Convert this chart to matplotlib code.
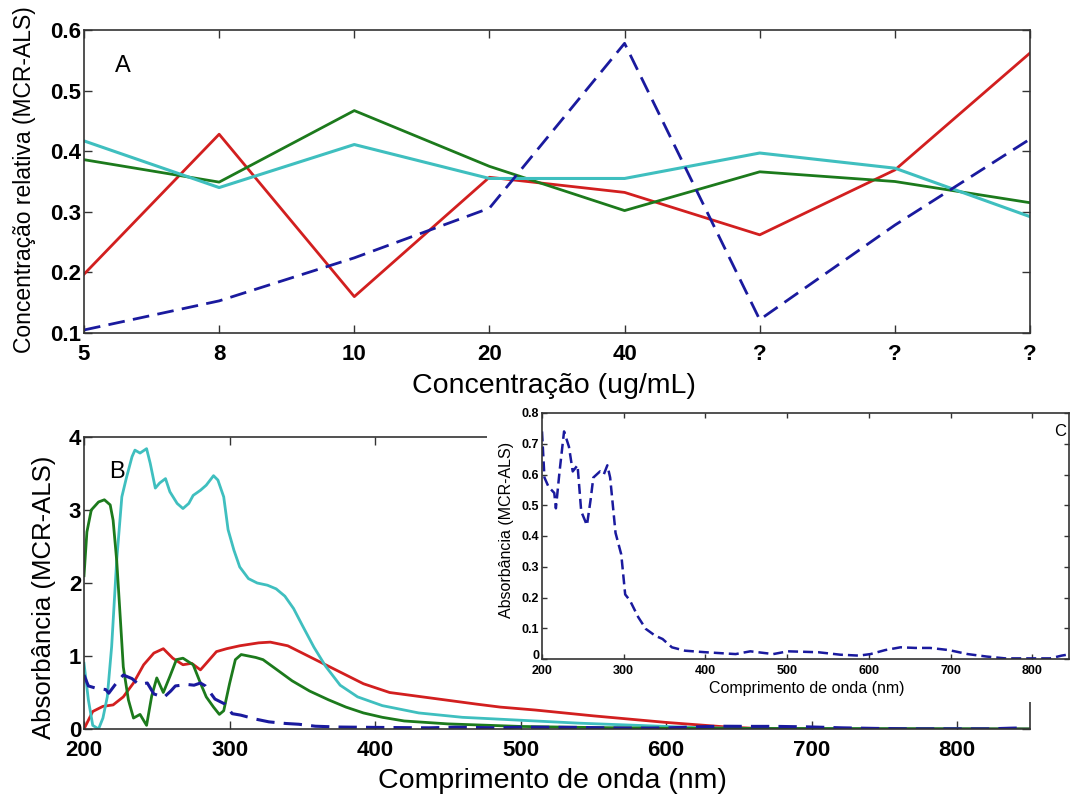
import matplotlib
matplotlib.use("Agg")
import matplotlib.pyplot as plt
from matplotlib import font_manager
from matplotlib.patches import Rectangle
from matplotlib.transforms import ScaledTranslation

# ---- panel A: relative concentration profiles ----
conc_labels = ["5", "8", "10", "20", "40", "?", "?", "?"]
a_blue = [0.105, 0.153, 0.224, 0.306, 0.578, 0.122, 0.278, 0.42]
a_red = [0.197, 0.428, 0.16, 0.357, 0.332, 0.262, 0.369, 0.562]
a_green = [0.386, 0.349, 0.467, 0.375, 0.302, 0.366, 0.35, 0.315]
a_cyan = [0.417, 0.34, 0.411, 0.355, 0.355, 0.397, 0.372, 0.292]

# ---- panel B / C: spectra (nm, absorbance) ----
green_nm = [200, 202, 205, 210, 214, 218, 220, 222.5, 225, 227, 230.5, 234, 238.5, 243, 246.5,
            250, 254.5, 259, 263.5, 268, 275, 280, 284, 289, 293, 296, 300, 304, 308, 313,
            318, 323, 332, 343, 355, 368, 380, 392, 405, 420, 450, 500, 550, 600, 850]
green_abs = [2.1, 2.7, 3.0, 3.11, 3.14, 3.07, 2.86, 2.3, 1.5, 0.85, 0.4, 0.15, 0.2, 0.05, 0.45,
             0.7, 0.5, 0.72, 0.95, 0.97, 0.88, 0.63, 0.44, 0.3, 0.2, 0.25, 0.62, 0.95, 1.02, 1.0,
             0.98, 0.95, 0.82, 0.66, 0.52, 0.4, 0.3, 0.22, 0.16, 0.11, 0.07, 0.035, 0.02, 0.01, 0.0]

cyan_nm = [200, 203, 206, 210, 213, 216, 219, 222.5, 226, 229, 233, 235, 238.5, 243, 245.5,
           249, 252, 256, 259, 264, 268, 272, 275, 280, 284, 289, 292, 296, 299, 303, 307,
           313, 319, 326, 332, 338, 344, 350, 358, 366, 376, 388, 405, 430, 460, 500, 540,
           580, 620, 660, 850]
cyan_abs = [0.9, 0.4, 0.05, 0.0, 0.15, 0.44, 1.13, 2.32, 3.18, 3.43, 3.73, 3.82, 3.78, 3.84, 3.64,
            3.3, 3.37, 3.43, 3.25, 3.09, 3.02, 3.09, 3.2, 3.27, 3.34, 3.47, 3.41, 3.18, 2.73, 2.45, 2.22,
            2.06, 2.0, 1.97, 1.92, 1.82, 1.65, 1.42, 1.12, 0.86, 0.6, 0.44, 0.32, 0.22, 0.16, 0.12, 0.08,
            0.05, 0.02, 0.005, 0.0]

red_nm = [200, 206, 213, 220, 227, 234, 241, 248, 254.5, 261, 268, 274, 280, 284, 291, 298,
          307, 320, 328, 340, 350, 362, 370, 380, 392, 410, 440, 470, 486, 510, 550, 600,
          640, 660, 700, 850]
red_abs = [0.0, 0.24, 0.31, 0.33, 0.44, 0.63, 0.88, 1.04, 1.1, 0.97, 0.88, 0.9, 0.81, 0.9, 1.06, 1.1,
           1.14, 1.18, 1.19, 1.14, 1.04, 0.92, 0.84, 0.74, 0.62, 0.5, 0.42, 0.34, 0.3, 0.26, 0.18, 0.09,
           0.03, 0.01, 0.0, 0.0]

blue_nm = [200, 203, 208, 215, 217, 221.5, 227, 233, 237.6, 243.5, 248, 255, 259.6, 262.8, 271,
           275.6, 280, 283.4, 290, 297, 301.8, 307.7, 317.8, 327, 338.4, 347.6, 359, 375, 400, 437,
           455, 483, 501, 538, 565, 588, 602, 620, 638.7, 657, 675, 698, 721, 744, 767, 790, 822,
           836, 845]
blue_abs = [0.74, 0.59, 0.56, 0.54, 0.49, 0.61, 0.74, 0.69, 0.61, 0.63, 0.48, 0.435, 0.52, 0.59, 0.61,
            0.6, 0.63, 0.59, 0.41, 0.34, 0.21, 0.19, 0.136, 0.098, 0.076, 0.065, 0.038, 0.027, 0.022, 0.016,
            0.025, 0.016, 0.025, 0.022, 0.014, 0.011, 0.016, 0.029, 0.038, 0.036, 0.036, 0.029, 0.016, 0.008,
            0.002, 0.002, 0.002, 0.011, 0.015]

wl_ticks = [200, 300, 400, 500, 600, 700, 800]

RED = "#d21f1f"
GREEN = "#1c7a1c"
CYAN = "#3fbfbf"
BLUE = "#1a1a9e"

names = {f.name for f in font_manager.fontManager.ttflist}
TICK_FONT = "Liberation Sans Narrow" if "Liberation Sans Narrow" in names else "Liberation Sans"
LABEL_FONT = "Liberation Sans"

W, H = 1070, 796


def px_rect(left, top, right, bottom):
    return [left / W, 1 - bottom / H, (right - left) / W, (bottom - top) / H]


def box_axes(ax, length, size, lw=1.2):
    ax.tick_params(direction="in", top=True, right=True, length=length, width=1,
                   colors="#333333", labelcolor="black", labelsize=size)
    for s in ax.spines.values():
        s.set_linewidth(lw)
        s.set_color("#333333")


fig = plt.figure(figsize=(W / 100, H / 100), dpi=100)

# ---- A ----
axA = fig.add_axes(px_rect(84, 30, 1030, 333))
idx = list(range(len(conc_labels)))
axA.plot(idx, a_red, color=RED, lw=2)
axA.plot(idx, a_green, color=GREEN, lw=2)
axA.plot(idx, a_cyan, color=CYAN, lw=2.2)
axA.plot(idx, a_blue, color=BLUE, lw=2, dashes=(6, 3))
axA.set_xlim(0, len(conc_labels) - 1)
axA.set_ylim(0.1, 0.6)
box_axes(axA, 6, 16)
axA.set_xticks(idx, conc_labels, fontfamily=TICK_FONT, fontweight="bold", fontsize=16)
axA.set_yticks([0.1, 0.2, 0.3, 0.4, 0.5, 0.6],
               ["0.1", "0.2", "0.3", "0.4", "0.5", "0.6"],
               fontfamily=TICK_FONT, fontweight="bold", fontsize=16)
axA.tick_params(axis="x", pad=8)
axA.tick_params(axis="y", pad=2)
axA.text(0.033, 0.88, "A", transform=axA.transAxes, fontsize=17, fontfamily=LABEL_FONT,
         va="center")

fig.text(554 / W, 1 - 386 / H, "Concentração (ug/mL)", ha="center", va="center",
         fontsize=20.5, fontfamily=LABEL_FONT)
fig.text(25 / W, 1 - 180 / H, "Concentração relativa (MCR-ALS)", ha="center", va="center",
         rotation=90, fontsize=16.5, fontfamily=LABEL_FONT)

# ---- B ----
axB = fig.add_axes(px_rect(84, 437, 1030, 729))
axB.plot(red_nm, red_abs, color=RED, lw=2)
axB.plot(cyan_nm, cyan_abs, color=CYAN, lw=2)
axB.plot(green_nm, green_abs, color=GREEN, lw=2)
axB.plot(blue_nm, blue_abs, color=BLUE, lw=2.2, dashes=(6, 3))
axB.set_xlim(200, 850)
axB.set_ylim(0, 4)
box_axes(axB, 6, 16)
axB.set_xticks(wl_ticks, [str(t) for t in wl_ticks], fontfamily=TICK_FONT, fontweight="bold",
               fontsize=16)
axB.set_yticks([0, 1, 2, 3, 4], ["0", "1", "2", "3", "4"], fontfamily=TICK_FONT,
               fontweight="bold", fontsize=16)
axB.tick_params(axis="x", pad=8)
axB.tick_params(axis="y", pad=2)
axB.text(0.027, 0.88, "B", transform=axB.transAxes, fontsize=17, fontfamily=LABEL_FONT,
         va="center")

fig.text(552 / W, 1 - 781 / H, "Comprimento de onda (nm)", ha="center", va="center",
         fontsize=20.5, fontfamily=LABEL_FONT)
fig.text(44 / W, 1 - 597 / H, "Absorbância (MCR-ALS)", ha="center", va="center",
         rotation=90, fontsize=18.5, fontfamily=LABEL_FONT)

# white backing of the pasted inset
fig.patches.append(Rectangle((487 / W, 1 - 702 / H), (W - 487) / W, 300 / H,
                             transform=fig.transFigure, facecolor="white",
                             edgecolor="none", zorder=1.5))

# ---- C (inset) ----
axC = fig.add_axes(px_rect(542, 413, 1069, 659))
axC.set_zorder(2)
axC.plot(blue_nm, blue_abs, color=BLUE, lw=1.8, dashes=(4, 2))
axC.set_xlim(200, 845)
axC.set_ylim(0, 0.8)
box_axes(axC, 3.5, 9, lw=1.2)
axC.set_xticks(wl_ticks, [str(t) for t in wl_ticks], fontfamily=TICK_FONT, fontweight="bold",
               fontsize=9)
cy = [0, 0.1, 0.2, 0.3, 0.4, 0.5, 0.6, 0.7, 0.8]
axC.set_yticks(cy, ["0"] + [f"{v:.1f}" for v in cy[1:]], fontfamily=TICK_FONT,
               fontweight="bold", fontsize=9)
axC.tick_params(axis="x", pad=4)
axC.tick_params(axis="y", pad=2)
# the zero label sits just above the 200 label, as in the original
zero_lbl = axC.get_yticklabels()[0]
zero_lbl.set_transform(zero_lbl.get_transform() + ScaledTranslation(0, 3 / 72, fig.dpi_scale_trans))

fig.text(1060 / W, 1 - 432 / H, "C", ha="center", va="center", fontsize=12,
         fontfamily=LABEL_FONT, zorder=3)
fig.text(807 / W, 1 - 689 / H, "Comprimento de onda (nm)", ha="center", va="center",
         fontsize=11.5, fontfamily=LABEL_FONT, zorder=3)
fig.text(506 / W, 1 - 530 / H, "Absorbância (MCR-ALS)", ha="center", va="center",
         rotation=90, fontsize=11.5, fontfamily=LABEL_FONT, zorder=3)

fig.savefig("out.png", dpi=100)
